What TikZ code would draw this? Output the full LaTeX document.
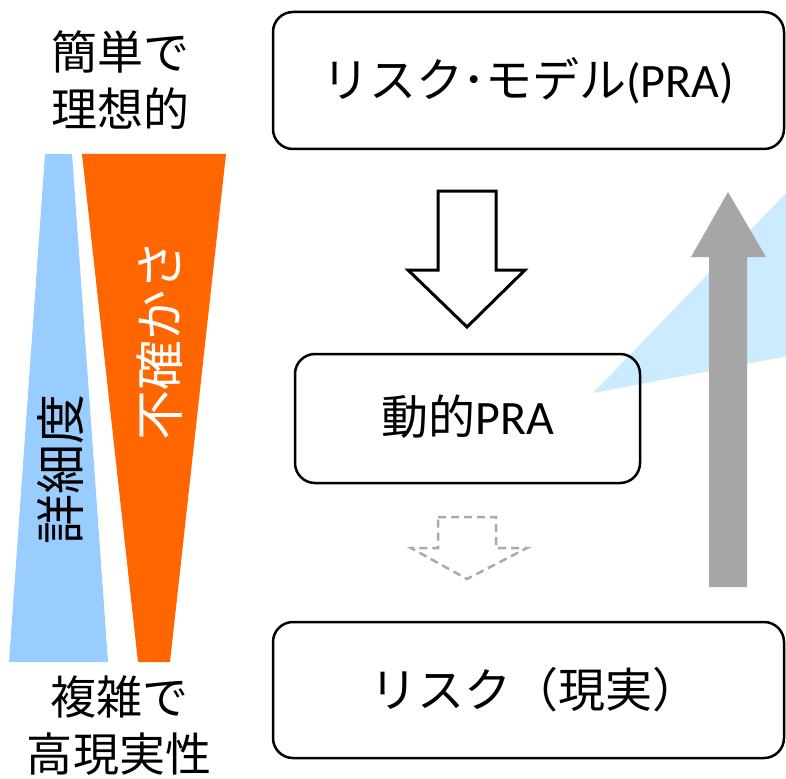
\documentclass[tikz,border=0pt]{standalone}
\usepackage{fontspec}
\newfontfamily\cjk{Noto Sans CJK JP}
\newfontfamily\lat{Carlito}
\definecolor{detailblue}{HTML}{99CCFF}
\definecolor{uncorange}{HTML}{FF6600}
\definecolor{arrowgray}{HTML}{A6A6A6}
\definecolor{dashgray}{HTML}{AAAAAA}
\definecolor{paleblue}{HTML}{CCEBFF}
\tikzset{
  roundbox/.style={draw=black, line width=2.5pt, rounded corners=20pt, inner sep=0pt},
  bigtext/.style={font=\cjk\fontsize{47}{56}\selectfont, align=center, inner sep=0pt},
  sidetext/.style={font=\cjk\fontsize{46}{57}\selectfont, align=center, inner sep=0pt},
  vtext/.style={font=\cjk\fontsize{50}{60}\selectfont, rotate=90, inner sep=0pt},
  hollowarrow/.style={draw=black, line width=3pt, fill=white, line join=miter},
  ghostarrow/.style={draw=dashgray, line width=2.5pt, dash pattern=on 8pt off 5pt},
}
\begin{document}
\begin{tikzpicture}[x=1pt,y=-1pt]
\useasboundingbox (0,0) rectangle (786,778);
\clip (0,0) rectangle (786,778);

% pale blue wedge (behind)
\fill[paleblue] (593,393) -- (900,75) -- (900,335) -- cycle;

% left trapezoids
\fill[detailblue] (45,154) -- (72,154) -- (108,662) -- (9,662) -- cycle;
\fill[uncorange] (82,154) -- (226,154) -- (170,662) -- (138,662) -- cycle;
\node[vtext, text=black] (detail) at (60,469) {詳細度};
\node[vtext, text=white] (uncert) at (159,340) {不確かさ};

% left labels
\node[sidetext] (simple) at (120,80) {簡単で\\理想的};
\node[sidetext] (complex) at (119,726) {複雑で\\高現実性};

% boxes
\node[roundbox, minimum width=511pt, minimum height=137pt] (model) at (528.5,80.5) {};
\node[bigtext] at (model.center) {リスク{\kern-1pt}･{\kern-1pt}モデル{\lat\fontsize{48}{56}\selectfont(PRA)}};
\node[roundbox, minimum width=345pt, minimum height=129pt] (dyn) at (467.5,418.5) {};
\node[bigtext] at ([yshift=2pt]dyn.center) {動的{\lat\fontsize{48}{56}\selectfont PRA}};
\node[roundbox, minimum width=511pt, minimum height=136pt] (risk) at (528.5,690) {};
\node[bigtext] at ([xshift=6pt]risk.center) {リスク（現実）};

% hollow down arrow
\draw[hollowarrow] (438,191) -- (496,191) -- (496,270) -- (525,270) -- (467,327) -- (408,270) -- (438,270) -- cycle;

% dashed ghost arrow
\draw[ghostarrow] (438,517) -- (496,517) -- (496,548) -- (527,548) -- (467,579) -- (411,548) -- (438,548) -- cycle;

% gray up arrow
\fill[arrowgray] (709,587) -- (747,587) -- (747,257) -- (766,257) -- (728,192) -- (691,257) -- (709,257) -- cycle;
\end{tikzpicture}
\end{document}
